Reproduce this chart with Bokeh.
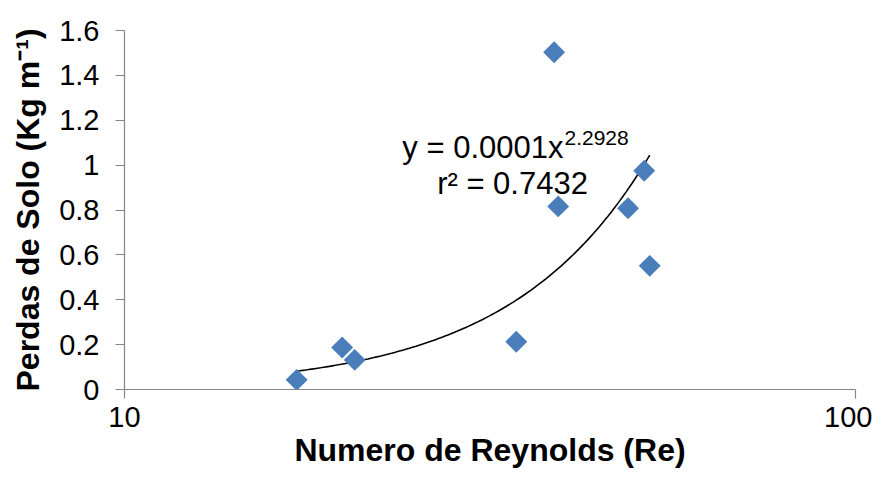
import numpy as np
from bokeh.plotting import figure
from bokeh.models import FixedTicker, Label, ColumnDataSource
from bokeh.embed import file_html
from bokeh.resources import INLINE

# Data
reynolds = [17.2, 19.85, 20.65, 34.35, 38.7, 39.2, 48.85, 51.4, 52.3]
soil_loss = [0.043, 0.187, 0.132, 0.213, 1.503, 0.816, 0.808, 0.975, 0.551]

x_ticks = [10, 100]
x_tick_labels = ["10", "100"]
y_ticks = [0, 0.2, 0.4, 0.6, 0.8, 1.0, 1.2, 1.4, 1.6]
y_tick_labels = ["0", "0.2", "0.4", "0.6", "0.8", "1", "1.2", "1.4", "1.6"]

eq_text = "y = 0.0001x"
eq_exp = "2.2928"
r2_text = "r\u00b2 = 0.7432"
x_title = "Numero de Reynolds (Re)"
y_title = "Perdas de Solo (Kg m\u207b\u00b9)"

FONT = "Liberation Sans"

# power trend line fitted to the data (least squares in log space)
lx = np.log(np.array(reynolds))
ly = np.log(np.array(soil_loss))
b, lna = np.polyfit(lx, ly, 1)
xt = np.exp(np.linspace(lx.min(), lx.max(), 120))
yt = np.exp(lna) * xt ** b

p = figure(width=872, height=473, x_axis_type="log", x_range=(10, 100), y_range=(0, 1.6),
           output_backend="svg", toolbar_location=None,
           min_border_left=124, min_border_right=17, min_border_top=30, min_border_bottom=84)
p.xgrid.visible = False
p.ygrid.visible = False
p.outline_line_color = None
p.background_fill_color = "white"

p.line(xt, yt, line_color="black", line_width=1.6)
src = ColumnDataSource(dict(x=reynolds, y=soil_loss))
p.scatter("x", "y", source=src, marker="square", angle=np.pi / 4, size=15.5,
          fill_color="#4A7EBB", line_color=None)

p.xaxis.ticker = FixedTicker(ticks=x_ticks, minor_ticks=[])
p.xaxis.major_label_overrides = {t: l for t, l in zip(x_ticks, x_tick_labels)}
p.yaxis.ticker = FixedTicker(ticks=y_ticks, minor_ticks=[])
p.yaxis.major_label_overrides = {t: l for t, l in zip(y_ticks, y_tick_labels)}

for ax in (p.xaxis[0], p.yaxis[0]):
    ax.axis_line_color = "#868686"
    ax.axis_line_width = 1.2
    ax.major_tick_line_color = "#868686"
    ax.major_tick_line_width = 1.2
    ax.major_tick_out = 9
    ax.major_tick_in = 0
    ax.minor_tick_line_color = None
    ax.major_label_text_font = FONT
    ax.major_label_text_font_size = "29px"
    ax.major_label_text_color = "black"
    ax.axis_label_text_font = FONT
    ax.axis_label_text_font_style = "bold"
    ax.axis_label_text_font_size = "32px"
    ax.axis_label_text_color = "black"

p.xaxis.axis_label = x_title
p.yaxis.axis_label = y_title
p.xaxis.major_label_standoff = 8
p.xaxis.axis_label_standoff = 2
p.yaxis.major_label_standoff = 16
p.yaxis.axis_label_standoff = 10

p.add_layout(Label(x=39.86, y=1.078, text=eq_text, text_font=FONT, text_font_size="31px",
                   text_align="right", text_baseline="alphabetic", text_color="black"))
p.add_layout(Label(x=39.86, y=1.1227, text=eq_exp, text_font=FONT, text_font_size="21px",
                   text_align="left", text_baseline="alphabetic", text_color="black", x_offset=1))
p.add_layout(Label(x=33.95, y=0.9175, text=r2_text, text_font=FONT, text_font_size="31px",
                   text_align="center", text_baseline="alphabetic", text_color="black"))

open("out.html", "w").write(file_html(p, INLINE))
